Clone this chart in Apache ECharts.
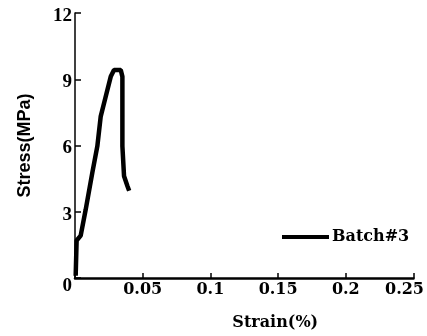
<!DOCTYPE html>
<html>
<head>
<meta charset="utf-8">
<script src="https://cdn.jsdelivr.net/npm/echarts@6/dist/echarts.min.js"></script>
<style>
    html, body { margin: 0; padding: 0; background: #fff; }
    #chart { width: 427px; height: 336px; }
</style>
</head>
<body>
<div id="chart"></div>
<script>
// values
const strainVals = [0.0005, 0.0012, 0.0042, 0.0079, 0.0128, 0.0165, 0.019, 0.0227, 0.0264, 0.0288, 0.0338, 0.035, 0.035, 0.0362, 0.0387, 0.04];
const stressVals = [0.1, 1.7, 1.92, 3.1, 4.77, 5.97, 7.32, 8.22, 9.12, 9.42, 9.42, 9.12, 5.97, 4.62, 4.17, 3.95];
const seriesName = 'Batch#3';
const xTicks = ['0.05', '0.1', '0.15', '0.2', '0.25'];
const yTicks = ['0', '3', '6', '9', '12'];

const TIMES = '"Liberation Serif", "Times New Roman", serif';
const WIDE_SERIF = '"DejaVu Serif", "Liberation Serif", serif';
const SANS = '"Liberation Sans", Arial, sans-serif';

const chart = echarts.init(document.getElementById('chart'), null, { renderer: 'canvas' });

const xLabel = { fontFamily: WIDE_SERIF, fontWeight: 'bold', fontSize: 16, color: '#000' };
const yLabel = { fontFamily: TIMES, fontWeight: 'bold', fontSize: 19, color: '#000' };

const option = {
    animation: false,
    backgroundColor: '#fff',
    grid: {
        left: 75,
        right: 11,
        top: 13,
        bottom: 57,
    },
    legend: {
        left: 282,
        top: 229,
        padding: 0,
        itemWidth: 47,
        itemHeight: 4,
        icon: 'rect',
        textStyle: {
            fontFamily: WIDE_SERIF,
            fontWeight: 'bold',
            fontSize: 16,
            color: '#000',
            padding: [0, 0, 0, -2],
        },
        data: [seriesName],
    },
    xAxis: {
        type: 'value',
        min: 0,
        max: 0.25,
        interval: 0.05,
        name: 'Strain(%)',
        nameLocation: 'middle',
        nameGap: 37,
        nameTextStyle: {
            fontFamily: WIDE_SERIF,
            fontWeight: 'bold',
            fontSize: 16,
            color: '#000',
            padding: [0, 0, 0, 62],
        },
        axisLine: { show: true, lineStyle: { color: '#000', width: 2.5 } },
        axisTick: { show: true, inside: true, length: 5, lineStyle: { color: '#000', width: 1.5 } },
        axisLabel: {
            margin: 4,
            ...xLabel,
            formatter: (v) => {
                const s = String(+v.toFixed(2));
                if (!xTicks.includes(s)) return '';
                return s === '0.25' ? '{r|' + s + '}' : s;
            },
            rich: {
                r: { ...xLabel, padding: [0, 18, 0, 0] },
            },
        },
        splitLine: { show: false },
    },
    yAxis: {
        type: 'value',
        min: 0,
        max: 12,
        interval: 3,
        name: 'Stress(MPa)',
        nameLocation: 'middle',
        nameGap: 41,
        nameTextStyle: {
            fontFamily: SANS,
            fontWeight: 'bold',
            fontSize: 18,
            color: '#000',
        },
        axisLine: { show: true, lineStyle: { color: '#000', width: 1.5 } },
        axisTick: { show: true, inside: true, length: 6, lineStyle: { color: '#000', width: 1.5 } },
        axisLabel: {
            margin: 3,
            ...yLabel,
            formatter: (v) => {
                const s = String(v);
                if (!yTicks.includes(s)) return '';
                return s === '0' ? '{z|0}' : '{n|' + s + '}';
            },
            rich: {
                n: { ...yLabel, padding: [6, 0, 0, 0] },
                z: { ...yLabel, padding: [16, 0, 0, 0] },
            },
        },
        splitLine: { show: false },
    },
    series: [
        {
            name: seriesName,
            type: 'line',
            symbol: 'none',
            lineStyle: { color: '#000', width: 4.5 },
            itemStyle: { color: '#000' },
            data: strainVals.map((x, i) => [x, stressVals[i]]),
        },
    ],
};

chart.setOption(option);
</script>
</body>
</html>
